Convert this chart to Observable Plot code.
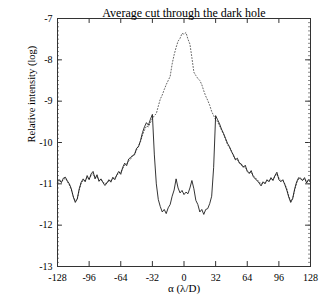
<!DOCTYPE html>
<html><head><meta charset="utf-8">
<script src="https://cdn.jsdelivr.net/npm/d3@7"></script>
<script src="https://cdn.jsdelivr.net/npm/@observablehq/plot@0.6"></script>
<style>body{margin:0;background:#fff}</style>
</head><body><div id="chart"></div>
<script>
const title = "Average cut through the dark hole";
const xLabel = "α (λ/D)";
const yLabel = "Relative intensity (log)";
const xTicks = [-128, -96, -64, -32, 0, 32, 64, 96, 128];
const yTicks = [-13, -12, -11, -10, -9, -8, -7];
// alpha positions, step 2 from -128 to 128
const alpha = d3.range(-128, 129, 2);
// with dark hole (solid)
const darkHole = [
 -10.95,-10.9,-10.97,-10.86,-10.84,-10.93,-11.0,-11.12,-11.32,-11.45,
 -11.36,-11.12,-10.96,-10.88,-10.95,-10.8,-10.9,-10.76,-10.7,-10.88,
 -10.78,-10.94,-10.88,-10.97,-11.04,-10.98,-10.9,-10.96,-10.84,-10.9,
 -10.78,-10.7,-10.77,-10.6,-10.5,-10.56,-10.4,-10.36,-10.33,-10.28,
 -10.14,-10.1,-9.95,-9.76,-9.62,-9.52,-9.58,-9.44,-9.32,
 -10.3,-11.0,-11.38,-11.55,-11.68,-11.62,-11.72,-11.58,-11.5,-11.3,
 -11.15,-10.88,-11.1,-11.22,-11.16,-11.26,-11.2,-11.24,-11.1,-10.92,
 -11.12,-11.4,-11.5,-11.68,-11.62,-11.74,-11.62,-11.6,-11.48,-11.3,-10.6,
 -9.35,-9.45,-9.55,-9.68,-9.78,-9.9,-10.02,-10.1,-10.22,-10.3,
 -10.42,-10.38,-10.5,-10.52,-10.6,-10.55,-10.7,-10.75,-10.68,-10.82,
 -10.88,-10.92,-10.98,-11.05,-10.95,-11.0,-10.9,-10.95,-10.85,-10.92,
 -10.8,-10.72,-10.9,-10.95,-10.9,-11.02,-11.15,-11.32,-11.45,-11.35,
 -11.12,-10.95,-10.85,-10.88,-10.92,-10.85,-10.98,-10.9,-10.95
];
// without dark hole (dotted)
const noDarkHole = [
 -10.98,-10.93,-10.95,-10.9,-10.86,-10.95,-11.03,-11.15,-11.3,-11.42,
 -11.38,-11.15,-10.98,-10.92,-10.92,-10.85,-10.88,-10.8,-10.75,-10.85,
 -10.82,-10.92,-10.9,-10.95,-11.0,-10.97,-10.93,-10.92,-10.88,-10.86,
 -10.8,-10.74,-10.72,-10.63,-10.55,-10.52,-10.45,-10.4,-10.3,-10.3,
 -10.18,-10.08,-9.98,-9.82,-9.7,-9.6,-9.62,-9.52,
 -9.42,-9.35,-9.3,-9.12,-8.95,-8.85,-8.72,-8.6,-8.5,-8.4,
 -8.1,-7.88,-7.7,-7.55,-7.48,-7.36,-7.38,-7.34,-7.5,-7.62,
 -7.95,-8.3,-8.38,-8.45,-8.5,-8.6,-8.75,-8.88,-8.98,-9.1,-9.25,-9.35,-9.45,
 -9.5,-9.6,-9.7,-9.8,-9.92,-10.05,-10.12,-10.2,-10.33,-10.4,
 -10.42,-10.48,-10.55,-10.58,-10.6,-10.68,-10.73,-10.72,-10.8,-10.85,
 -10.9,-10.95,-11.0,-10.98,-10.97,-10.92,-10.93,-10.88,-10.9,-10.82,
 -10.76,-10.86,-10.92,-10.92,-11.0,-11.12,-11.3,-11.42,-11.36,-11.15,
 -10.98,-10.88,-10.86,-10.9,-10.88,-10.95,-10.92,-10.97
];
const solidData = alpha.map((a, i) => ({a, v: darkHole[i]}));
const dottedData = alpha.map((a, i) => ({a, v: noDarkHole[i]}));
const yMinor = d3.range(-130, -69).map(d => d / 10);

const chart = Plot.plot({
  width: 327, height: 301,
  marginTop: 18, marginLeft: 57, marginRight: 17, marginBottom: 35,
  style: {fontFamily: "'Liberation Serif', 'Times New Roman', serif", fontSize: "10px", color: "#000", background: "#fff"},
  x: {type: "linear", domain: [-128, 128]},
  y: {type: "linear", domain: [-13, -7]},
  marks: [
    Plot.line(dottedData, {x: "a", y: "v", stroke: "#666", strokeWidth: 1, strokeDasharray: "1,2"}),
    Plot.line(solidData, {x: "a", y: "v", stroke: "#111", strokeWidth: 0.85}),
    // inward major ticks
    Plot.ruleX(xTicks, {x: d => d, y1: -13, y2: -12.88, stroke: "#333"}),
    Plot.ruleX(xTicks, {x: d => d, y1: -7, y2: -7.12, stroke: "#333"}),
    Plot.ruleY(yTicks, {y: d => d, x1: -128, x2: -123, stroke: "#333"}),
    Plot.ruleY(yTicks, {y: d => d, x1: 128, x2: 123, stroke: "#333"}),
    Plot.ruleY(yMinor, {y: d => d, x1: -128, x2: -126, stroke: "#555", strokeWidth: 0.7}),
    Plot.ruleY(yMinor, {y: d => d, x1: 128, x2: 126, stroke: "#555", strokeWidth: 0.7}),
    Plot.frame({stroke: "#333"}),
    Plot.axisX({ticks: xTicks, tickSize: 0, tickPadding: 7, label: null, tickFormat: d => String(d)}),
    Plot.axisY({ticks: yTicks, tickSize: 0, tickPadding: 5, label: null, tickFormat: d => String(d)}),
    Plot.text([title], {frameAnchor: "top", dy: -10, fontSize: 12}),
    Plot.text([xLabel], {frameAnchor: "bottom", dy: 25, fontSize: 11}),
    Plot.text([yLabel], {frameAnchor: "left", dx: -26, rotate: -90, fontSize: 10.5})
  ]
});
document.getElementById("chart").appendChild(chart);
</script>
</body></html>
